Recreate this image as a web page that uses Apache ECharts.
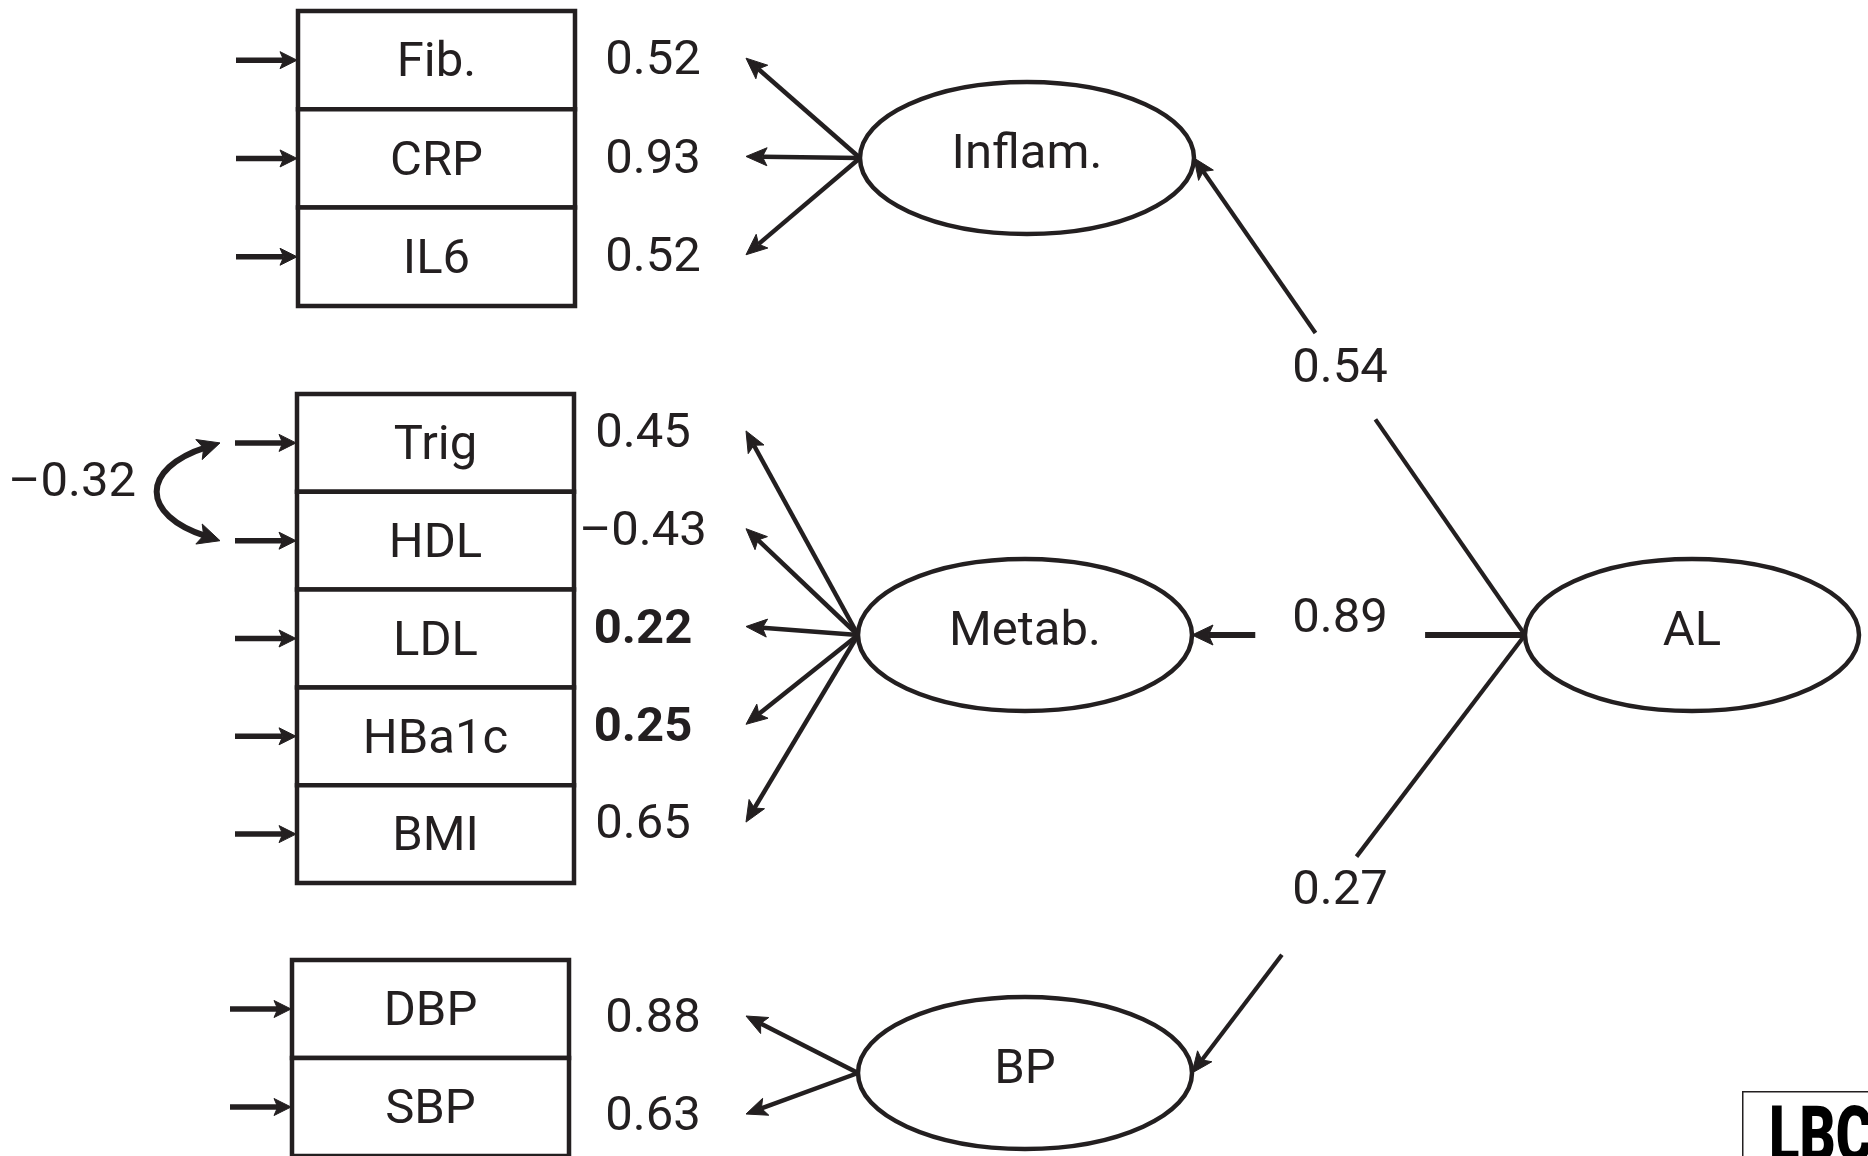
<!DOCTYPE html>
<html>
<head>
<meta charset="utf-8">
<script src="https://cdn.jsdelivr.net/npm/echarts@6/dist/echarts.min.js"></script>
<style>
  html, body { margin: 0; padding: 0; background: #ffffff; }
  #chart { width: 1868px; height: 1156px; }
</style>
</head>
<body>
<div id="chart"></div>
<script>
// Observed indicators and their standardized loadings, per first-order factor
const inflamIndicators = ['Fib.', 'CRP', 'IL6'];
const inflamLoadings = [0.52, 0.93, 0.52];
const metabIndicators = ['Trig', 'HDL', 'LDL', 'HBa1c', 'BMI'];
const metabLoadings = [0.45, -0.43, 0.22, 0.25, 0.65];
const bpIndicators = ['DBP', 'SBP'];
const bpLoadings = [0.88, 0.63];

// First-order factors and their loadings on the second-order factor
const factorNames = ['Inflam.', 'Metab.', 'BP'];
const alName = 'AL';
const alLoadings = [0.54, 0.89, 0.27];

// Residual covariance between two metabolic indicators
const covPair = ['Trig', 'HDL'];
const covValue = -0.32;

// Loadings printed in bold
const boldIndicators = ['LDL', 'HBa1c'];

// ---------------------------------------------------------------------------
// Layout (pixel space of the drawing area)
const W = 1868, H = 1156;
const INK = '#231f20';
const FONT = 'Roboto, "Liberation Sans", sans-serif';
const FS = 49;
const TEXT_DY = 4;   // optical baseline correction for all labels

const groupLayout = [
  { left: 298, right: 575, top: 11,  rowH: 98.3, labelX: 653, labelDy: -2 },
  { left: 297, right: 574, top: 394, rowH: 97.8, labelX: 643, labelDy: -12 },
  { left: 292, right: 569, top: 960, rowH: 98.0, labelX: 653, labelDy: 7 }
];
const factorLayout = [
  { cx: 1027, cy: 158 },
  { cx: 1025, cy: 635 },
  { cx: 1025, cy: 1073 }
];
const alLayout = { cx: 1692, cy: 635 };
const RX = 167, RY = 76;
const TIP_X = 746;
const pathLayout = [
  { gap: [0.452, 0.633], labelDy: -3,  width: 4.2 },
  { gap: [0.300, 0.810], labelDy: -19, width: 6 },
  { gap: [0.506, 0.730], labelDy: 9,   width: 4.2 }
];
const PATH_LABEL_X = 1340;

const groups = [
  { names: inflamIndicators, values: inflamLoadings },
  { names: metabIndicators, values: metabLoadings },
  { names: bpIndicators, values: bpLoadings }
];

const indicatorData = [];
groups.forEach((g, gi) => {
  g.names.forEach((n, ri) => {
    indicatorData.push({ name: n, value: [gi, ri, g.values[ri]] });
  });
});
const factorData = factorNames.concat([alName]).map((n, i) => ({ name: n, value: [i, 0] }));
const pathData = alLoadings.map((v, i) => ({ name: factorNames[i], value: [i, v] }));
const covData = [{
  name: covPair.join('-'),
  value: [metabIndicators.indexOf(covPair[0]), metabIndicators.indexOf(covPair[1]), covValue]
}];

function fmt(v) {
  return (v < 0 ? '\u2013' : '') + Math.abs(v).toFixed(2);
}

function textEl(str, p, opt) {
  opt = opt || {};
  return {
    type: 'text',
    z2: 10,
    style: {
      text: str,
      x: p[0],
      y: p[1] + TEXT_DY,
      fill: INK,
      fontFamily: FONT,
      fontSize: opt.size || FS,
      fontWeight: opt.bold ? 'bold' : 'normal',
      align: opt.align || 'center',
      verticalAlign: 'middle'
    }
  };
}

// Straight arrow with a barbed head at `to`
function arrowEls(from, to, opt) {
  opt = opt || {};
  const dx = to[0] - from[0], dy = to[1] - from[1];
  const len = Math.hypot(dx, dy);
  const ux = dx / len, uy = dy / len;
  const hl = opt.head || 20, hw = opt.hw || 8;
  const nx = to[0] - ux * hl * 0.78, ny = to[1] - uy * hl * 0.78;
  return [
    { type: 'line',
      shape: { x1: from[0], y1: from[1], x2: nx, y2: ny },
      style: { stroke: INK, lineWidth: opt.width || 3.5, lineCap: 'butt' } },
    headEl(to, [ux, uy], hl, hw)
  ];
}

function headEl(tip, u, hl, hw) {
  const ux = u[0], uy = u[1];
  const bx = tip[0] - ux * hl, by = tip[1] - uy * hl;
  const nx = tip[0] - ux * hl * 0.78, ny = tip[1] - uy * hl * 0.78;
  return {
    type: 'polygon',
    shape: { points: [
      [tip[0], tip[1]],
      [bx - uy * hw, by + ux * hw],
      [nx, ny],
      [bx + uy * hw, by - ux * hw]
    ] },
    style: { fill: INK, stroke: INK, lineWidth: 1 }
  };
}

function renderIndicator(params, api) {
  const gi = api.value(0), ri = api.value(1), v = api.value(2);
  const name = indicatorData[params.dataIndex].name;
  const L = groupLayout[gi];
  const F = factorLayout[gi];
  const y0 = L.top + ri * L.rowH;
  const yc = y0 + L.rowH / 2;
  const a = api.coord([L.left, y0]);
  const b = api.coord([L.right, y0 + L.rowH]);
  const children = [];
  // box row
  children.push({
    type: 'rect',
    shape: { x: a[0], y: a[1], width: b[0] - a[0], height: b[1] - a[1] },
    style: { fill: '#ffffff', stroke: INK, lineWidth: 4.5 }
  });
  children.push(textEl(name, api.coord([(L.left + L.right) / 2, yc])));
  // error term arrow entering the box
  children.push.apply(children, arrowEls(api.coord([L.left - 62, yc]), api.coord([L.left - 1, yc]),
    { width: 5.5, head: 17, hw: 8.5 }));
  // loading arrow from the factor
  children.push.apply(children, arrowEls(api.coord([F.cx - RX, F.cy]), api.coord([TIP_X, yc + L.labelDy]),
    { width: 4.5, head: 21, hw: 9 }));
  // loading value
  children.push(textEl(fmt(v), api.coord([L.labelX, yc + L.labelDy]),
    { bold: boldIndicators.indexOf(name) >= 0 }));
  return { type: 'group', children: children };
}

function renderFactor(params, api) {
  const i = api.value(0);
  const F = i < factorLayout.length ? factorLayout[i] : alLayout;
  const c = api.coord([F.cx, F.cy]);
  const e = api.coord([F.cx + RX, F.cy + RY]);
  return {
    type: 'group',
    children: [
      { type: 'ellipse',
        shape: { cx: c[0], cy: c[1], rx: e[0] - c[0], ry: e[1] - c[1] },
        style: { fill: '#ffffff', stroke: INK, lineWidth: 4.5 } },
      textEl(factorData[i].name, api.coord([F.cx, F.cy - 6]))
    ]
  };
}

function renderPath(params, api) {
  const i = api.value(0), v = api.value(1);
  const P = pathLayout[i];
  const F = factorLayout[i];
  const s = [alLayout.cx - RX, alLayout.cy];
  const t = [F.cx + RX, F.cy];
  const at = (k) => [s[0] + (t[0] - s[0]) * k, s[1] + (t[1] - s[1]) * k];
  const children = [];
  const g0 = api.coord(at(P.gap[0]));
  const s0 = api.coord(s);
  children.push({ type: 'line', shape: { x1: s0[0], y1: s0[1], x2: g0[0], y2: g0[1] },
    style: { stroke: INK, lineWidth: P.width } });
  children.push.apply(children, arrowEls(api.coord(at(P.gap[1])), api.coord(t),
    { width: P.width, head: 21, hw: P.width > 5 ? 10 : 9 }));
  const k = (s[0] - PATH_LABEL_X) / (s[0] - t[0]);
  const lp = at(k);
  children.push(textEl(fmt(v), api.coord([PATH_LABEL_X, lp[1] + P.labelDy])));
  return { type: 'group', children: children };
}

function renderCov(params, api) {
  const ra = api.value(0), rb = api.value(1), v = api.value(2);
  const L = groupLayout[1];
  const ya = L.top + (ra + 0.5) * L.rowH;
  const yb = L.top + (rb + 0.5) * L.rowH;
  const tipX = L.left - 77;
  const cpX = 140;
  const ta = api.coord([tipX, ya]), tb = api.coord([tipX, yb]);
  const ca = api.coord([cpX, ya + (yb - ya) * 0.26]);
  const cb = api.coord([cpX, yb - (yb - ya) * 0.26]);
  const unit = (p, q) => { const d = Math.hypot(p[0] - q[0], p[1] - q[1]); return [(p[0] - q[0]) / d, (p[1] - q[1]) / d]; };
  const ua = unit(ta, ca), ub = unit(tb, cb);
  const back = 14;
  const sa = [ta[0] - ua[0] * back, ta[1] - ua[1] * back];
  const sb = [tb[0] - ub[0] * back, tb[1] - ub[1] * back];
  const mid = (ya + yb) / 2;
  return {
    type: 'group',
    children: [
      { type: 'bezierCurve',
        shape: { x1: sa[0], y1: sa[1], cpx1: ca[0], cpy1: ca[1], cpx2: cb[0], cpy2: cb[1], x2: sb[0], y2: sb[1] },
        style: { stroke: INK, lineWidth: 6, fill: null } },
      headEl(ta, ua, 22, 10.5),
      headEl(tb, ub, 22, 10.5),
      textEl(fmt(v), api.coord([136, mid - 12]), { align: 'right' })
    ]
  };
}

const chart = echarts.init(document.getElementById('chart'), null, { renderer: 'canvas' });
chart.setOption({
  animation: false,
  backgroundColor: '#ffffff',
  grid: { left: 0, right: 0, top: 0, bottom: 0, containLabel: false },
  xAxis: { type: 'value', min: 0, max: W, show: false },
  yAxis: { type: 'value', min: 0, max: H, inverse: true, show: false },
  series: [
    { type: 'custom', name: 'paths', clip: false, renderItem: renderPath, data: pathData, z: 1 },
    { type: 'custom', name: 'indicators', clip: false, renderItem: renderIndicator, data: indicatorData, z: 2 },
    { type: 'custom', name: 'covariance', clip: false, renderItem: renderCov, data: covData, z: 2 },
    { type: 'custom', name: 'factors', clip: false, renderItem: renderFactor, data: factorData, z: 3 }
  ],
  graphic: [
    { type: 'rect', left: 1742, top: 1091, shape: { width: 160, height: 90 },
      style: { fill: '#ffffff', stroke: INK, lineWidth: 1.5 } },
    { type: 'text', x: 1769, y: 1102, scaleX: 0.72, scaleY: 1,
      style: { text: 'LBC', fill: '#000000',
        font: '900 78px Roboto, "Liberation Sans", sans-serif' } }
  ]
});
</script>
</body>
</html>
